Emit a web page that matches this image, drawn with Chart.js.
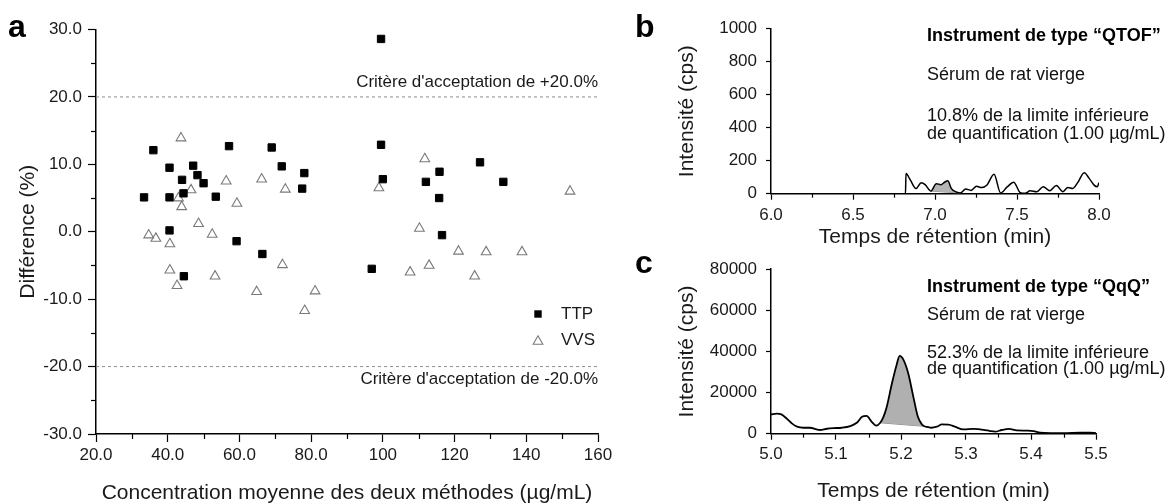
<!DOCTYPE html>
<html>
<head>
<meta charset="utf-8">
<script src="https://cdn.jsdelivr.net/npm/chart.js@4.4.1/dist/chart.umd.min.js"></script>
<style>
html,body{margin:0;padding:0;background:#fff;}
#wrap{position:relative;width:1173px;height:504px;overflow:hidden;background:#fff;}
canvas{position:absolute;display:block;}
</style>
</head>
<body>
<div id="wrap">
<canvas id="ca" width="620" height="504" style="left:0;top:0"></canvas>
<canvas id="cb" width="553" height="250" style="left:620px;top:0"></canvas>
<canvas id="cc" width="553" height="254" style="left:620px;top:250px"></canvas>
</div>
<script>
// ---------------- DATA ----------------
// Panel a : Bland-Altman style plot
const ttpConc = [33.4, 36.0, 40.5, 40.5, 40.5, 44.0, 44.4, 47.1, 48.3, 50.0, 53.4, 57.1, 59.2, 66.4, 69.0, 71.8, 77.5, 78.1, 44.5, 99.5, 99.5, 100.0, 115.8, 112.0, 115.7, 127.1, 133.6, 116.5, 96.9];
const ttpDiff = [5.1, 12.1, 9.5, 5.1, 0.2, 7.7, 5.7, 9.8, 8.4, 7.2, 5.2, 12.7, -1.4, -3.3, 12.5, 9.7, 6.4, 8.7, -6.6, 28.6, 12.9, 7.8, 8.9, 7.4, 5.0, 10.3, 7.4, -0.5, -5.5];
const vvsConc = [43.7, 46.5, 43.0, 43.9, 56.3, 66.2, 72.8, 59.3, 48.6, 52.4, 34.7, 36.7, 40.6, 40.6, 42.6, 53.2, 64.8, 72.0, 81.1, 78.2, 98.9, 111.7, 152.2, 110.2, 121.1, 128.8, 138.8, 112.9, 107.6, 125.6];
const vvsDiff = [13.9, 6.2, 5.0, 3.7, 7.5, 7.8, 6.3, 4.2, 1.2, -0.4, -0.5, -1.0, -1.8, -5.7, -8.0, -6.6, -8.9, -4.9, -8.8, -11.7, 6.5, 10.8, 6.0, 0.5, -2.9, -3.0, -3.0, -5.0, -6.0, -6.6];
const acceptanceLimits = [20, -20];
const concRange = [20, 160];
const concTickLabels = ['20.0', '40.0', '60.0', '80.0', '100', '120', '140', '160'];

// Panel b : QTOF chromatogram
const qtofTime = [6.00, 6.82, 6.823, 6.85, 6.884, 6.916, 6.94, 6.975, 7.008, 7.036, 7.06, 7.078, 7.10, 7.13, 7.155, 7.187, 7.22, 7.254, 7.284, 7.317, 7.36, 7.40, 7.44, 7.48, 7.52, 7.55, 7.58, 7.62, 7.66, 7.70, 7.74, 7.78, 7.81, 7.84, 7.87, 7.91, 7.94, 7.97, 7.99, 8.00];
const qtofIntensity = [0, 0, 122, 82, 31, 67, 55, 16, 61, 55, 71, 78, 31, 10, 4, 29, 20, 45, 37, 53, 118, 4, 41, 69, 6, 2, 18, 12, 42, 18, 50, 12, 38, 32, 67, 127, 93, 52, 42, 67];
const qtofPeakWindow = [6.975, 7.155];

// Panel c : QqQ chromatogram
const qqqTime = [5.000, 5.009, 5.016, 5.024, 5.032, 5.040, 5.050, 5.060, 5.070, 5.075, 5.086, 5.096, 5.109, 5.122, 5.132, 5.140, 5.147, 5.155, 5.162, 5.168, 5.173, 5.178, 5.186, 5.193, 5.198, 5.204, 5.211, 5.219, 5.226, 5.232, 5.236, 5.240, 5.247, 5.255, 5.263, 5.273, 5.283, 5.296, 5.312, 5.327, 5.337, 5.345, 5.355, 5.366, 5.378, 5.394, 5.404, 5.414, 5.430, 5.450, 5.476, 5.491, 5.500];
const qqqIntensity = [9400, 9800, 9400, 7400, 5000, 3400, 2900, 2900, 2100, 1800, 2400, 2700, 2900, 3700, 5300, 8200, 8700, 5800, 3900, 5300, 8200, 13000, 24400, 33200, 37800, 35800, 29500, 17900, 8200, 4600, 3600, 3300, 2900, 3400, 4500, 4400, 3400, 2100, 2300, 1900, 1300, 1000, 1800, 2300, 1600, 1500, 1300, 500, 300, 300, 500, 500, 300];
const qqqPeakWindow = [5.168, 5.236];

// ---------------- HELPERS ----------------
const FONT = "'Liberation Sans', Arial, Helvetica, sans-serif";
Chart.defaults.font.family = FONT;
Chart.defaults.color = '#1a1a1a';
Chart.defaults.animation = false;

const pts = (xs, ys) => xs.map((x, i) => ({x: x, y: ys[i]}));
function windowPts(xs, ys, w) {
  const out = [];
  xs.forEach((x, i) => { if (x >= w[0] - 1e-9 && x <= w[1] + 1e-9) out.push({x: x, y: ys[i]}); });
  return out;
}

function minorTickPlugin(cfg) {
  return {
    id: 'minorTicks',
    afterDraw(chart) {
      const ctx = chart.ctx;
      ctx.save();
      ctx.strokeStyle = '#000';
      ctx.lineWidth = 1.2;
      Object.keys(cfg).forEach(id => {
        const s = chart.scales[id], len = cfg[id], t = s.ticks;
        for (let i = 0; i < t.length - 1; i++) {
          const p = Math.round(s.getPixelForValue((t[i].value + t[i + 1].value) / 2)) + 0.5;
          ctx.beginPath();
          if (s.isHorizontal()) { ctx.moveTo(p, s.top); ctx.lineTo(p, s.top + len); }
          else { ctx.moveTo(s.right, p); ctx.lineTo(s.right - len, p); }
          ctx.stroke();
        }
      });
      ctx.restore();
    }
  };
}

function textPlugin(drawFn) {
  return { id: 'texts', afterDraw(chart) { const ctx = chart.ctx; ctx.save(); drawFn(chart, ctx); ctx.restore(); } };
}
function txt(ctx, s, x, y, font, align, baseline, color) {
  ctx.font = font;
  ctx.fillStyle = color || '#111';
  ctx.textAlign = align || 'left';
  ctx.textBaseline = baseline || 'middle';
  ctx.fillText(s, x, y);
}

function axisCommon(tickLen, pad, size) {
  return {
    border: {display: true, color: '#000', width: 1.5},
    grid: {display: true, drawOnChartArea: false, drawTicks: true, tickLength: tickLen, tickColor: '#000', tickWidth: 1.2},
    ticks: {autoSkip: false, maxRotation: 0, padding: pad, font: {size: size}, color: '#1a1a1a'}
  };
}

// ---------------- PANEL A ----------------
(function () {
  const xa = axisCommon(8, 3.3, 17);
  const ya = axisCommon(8, 6, 17);
  new Chart(document.getElementById('ca'), {
    type: 'scatter',
    data: {
      datasets: [
        {label: 'TTP', data: pts(ttpConc, ttpDiff), pointStyle: 'rect', pointRadius: 5.2, backgroundColor: '#000', borderColor: '#000', borderWidth: 1},
        {label: 'VVS', data: pts(vvsConc, vvsDiff), pointStyle: 'triangle', pointRadius: 5.6, backgroundColor: 'rgba(255,255,255,0)', borderColor: '#7a7a7a', borderWidth: 1.1},
        {label: 'upper', data: pts(concRange, [acceptanceLimits[0], acceptanceLimits[0]]), showLine: true, pointRadius: 0, borderColor: '#8c8c8c', borderWidth: 1, borderDash: [3, 3]},
        {label: 'lower', data: pts(concRange, [acceptanceLimits[1], acceptanceLimits[1]]), showLine: true, pointRadius: 0, borderColor: '#8c8c8c', borderWidth: 1, borderDash: [3, 3]}
      ]
    },
    options: {
      responsive: false, devicePixelRatio: 1, animation: false,
      layout: {padding: {top: 29.5, right: 22, left: 0, bottom: 0}},
      plugins: {legend: {display: false}, tooltip: {enabled: false}},
      scales: {
        x: Object.assign({}, xa, {
          type: 'linear', min: concRange[0], max: concRange[1],
          afterFit: s => { s.height = 70; },
          ticks: Object.assign({}, xa.ticks, {stepSize: 20, callback: (v, i) => concTickLabels[i]}),
          title: {display: true, text: 'Concentration moyenne des deux méthodes (µg/mL)', font: {size: 21, lineHeight: 1}, padding: {top: 0, bottom: 0}, color: '#1a1a1a'}
        }),
        y: Object.assign({}, ya, {
          type: 'linear', min: -30, max: 30,
          afterFit: s => { s.width = 96; },
          ticks: Object.assign({}, ya.ticks, {stepSize: 10, callback: v => Number(v).toFixed(1)}),
          title: {display: true, text: 'Différence (%)', font: {size: 21, lineHeight: 1}, padding: {top: 18, bottom: 0}, color: '#1a1a1a'}
        })
      }
    },
    plugins: [minorTickPlugin({x: 5, y: 5}), textPlugin((chart, ctx) => {
      const ys = chart.scales.y, ca = chart.chartArea;
      txt(ctx, 'a', 8, 37, 'bold 32px ' + FONT, 'left', 'alphabetic', '#000');
      txt(ctx, "Critère d'acceptation de +20.0%", ca.right, ys.getPixelForValue(acceptanceLimits[0]) - 15, '17px ' + FONT, 'right', 'middle', '#1a1a1a');
      txt(ctx, "Critère d'acceptation de -20.0%", ca.right, ys.getPixelForValue(acceptanceLimits[1]) + 12.5, '17px ' + FONT, 'right', 'middle', '#1a1a1a');
      // legend
      const lx = ca.right - 60, ly1 = 314, ly2 = 340;
      ctx.fillStyle = '#000';
      ctx.fillRect(lx - 3.7, ly1 - 3.7, 7.4, 7.4);
      ctx.strokeStyle = '#7a7a7a'; ctx.lineWidth = 1.1;
      ctx.beginPath();
      ctx.moveTo(lx, ly2 - 5.6 + 1.4); ctx.lineTo(lx + 4.85, ly2 + 2.8 + 1.4); ctx.lineTo(lx - 4.85, ly2 + 2.8 + 1.4); ctx.closePath();
      ctx.stroke();
      txt(ctx, 'TTP', lx + 23, ly1, '17px ' + FONT, 'left', 'middle', '#1a1a1a');
      txt(ctx, 'VVS', lx + 23, ly2, '17px ' + FONT, 'left', 'middle', '#1a1a1a');
    })]
  });
})();

// ---------------- CHROMATOGRAM PANELS ----------------
function chromatogram(canvasId, cfg) {
  const xa = axisCommon(6, 6.5, 17);
  const ya = axisCommon(5, 9, 17);
  const peak = windowPts(cfg.time, cfg.intensity, cfg.window);
  const base = [peak[0], peak[peak.length - 1]];
  new Chart(document.getElementById(canvasId), {
    type: 'line',
    data: {
      datasets: [
        {label: 'signal', data: pts(cfg.time, cfg.intensity), borderColor: '#000', borderWidth: cfg.lw, pointRadius: 0, cubicInterpolationMode: 'monotone', fill: false},
        {label: 'peak', data: peak, borderColor: 'transparent', borderWidth: 1, pointRadius: 0, cubicInterpolationMode: 'monotone', fill: 2, backgroundColor: cfg.fillColor},
        {label: 'baseline', data: base, borderColor: '#8a8a8a', borderWidth: 1, pointRadius: 0, fill: false}
      ]
    },
    options: {
      responsive: false, devicePixelRatio: 1, animation: false,
      layout: {padding: cfg.padding},
      plugins: {legend: {display: false}, tooltip: {enabled: false}},
      scales: {
        x: Object.assign({}, xa, {
          type: 'linear', min: cfg.xRange[0], max: cfg.xRange[1],
          afterFit: s => { s.height = cfg.xAxisH; },
          ticks: Object.assign({}, xa.ticks, {stepSize: cfg.xStep, padding: cfg.xPad, callback: v => Number(v).toFixed(1)}),
          title: {display: true, text: 'Temps de rétention (min)', font: {size: 21, lineHeight: 1}, padding: {top: 0, bottom: cfg.xTitlePad}, color: '#1a1a1a'}
        }),
        y: Object.assign({}, ya, {
          type: 'linear', min: cfg.yRange[0], max: cfg.yRange[1],
          afterFit: s => { s.width = 151; },
          ticks: Object.assign({}, ya.ticks, {stepSize: cfg.yStep, callback: v => String(v)}),
          title: {display: true, text: 'Intensité (cps)', font: {size: 21, lineHeight: 1}, padding: {top: 57, bottom: 0}, color: '#1a1a1a'}
        })
      }
    },
    plugins: [minorTickPlugin({x: 4}), textPlugin((chart, ctx) => {
      txt(ctx, cfg.letter, 15, cfg.letterY, 'bold 32px ' + FONT, 'left', 'alphabetic', '#000');
      const x0 = 307;
      txt(ctx, cfg.title, x0, cfg.lines[0], 'bold 18px ' + FONT, 'left', 'middle', '#000');
      txt(ctx, 'Sérum de rat vierge', x0, cfg.lines[1], '18px ' + FONT, 'left', 'middle', '#111');
      txt(ctx, cfg.pct + ' de la limite inférieure', x0, cfg.lines[2], '18px ' + FONT, 'left', 'middle', '#111');
      txt(ctx, 'de quantification (1.00 µg/mL)', x0, cfg.lines[3], '18px ' + FONT, 'left', 'middle', '#111');
    })]
  });
}

chromatogram('cb', {
  time: qtofTime, intensity: qtofIntensity, window: qtofPeakWindow,
  xRange: [6, 8], xStep: 0.5, yRange: [0, 1000], yStep: 200,
  padding: {top: 28.7, right: 74, left: 0, bottom: 0}, xAxisH: 56.3, xPad: 5.5, xTitlePad: 2.5,
  lw: 1.5, fillColor: '#b4b4b4',
  letter: 'b', letterY: 37, title: 'Instrument de type “QTOF”', pct: '10.8%',
  lines: [36, 75, 116.5, 134.5]
});

chromatogram('cc', {
  time: qqqTime, intensity: qqqIntensity, window: qqqPeakWindow,
  xRange: [5, 5.5], xStep: 0.1, yRange: [0, 80000], yStep: 20000,
  padding: {top: 18.3, right: 77, left: 0, bottom: 0}, xAxisH: 70.3, xPad: 4, xTitlePad: 2,
  lw: 1.8, fillColor: '#b0b0b0',
  letter: 'c', letterY: 23, title: 'Instrument de type “QqQ”', pct: '52.3%',
  lines: [37, 65, 102.7, 119.5]
});
</script>
</body>
</html>
